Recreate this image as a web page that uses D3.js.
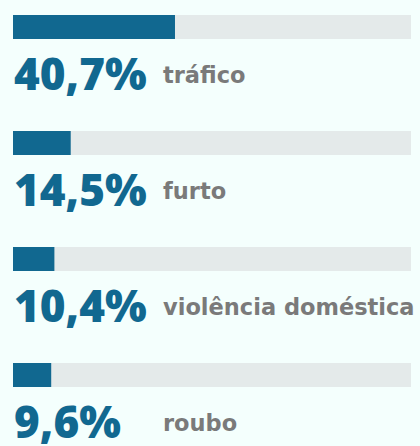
<!DOCTYPE html>
<html>
<head>
<meta charset="utf-8">
<script src="https://cdn.jsdelivr.net/npm/d3@7"></script>
<style>
  html, body { margin: 0; padding: 0; background: #f4fffd; }
  svg { display: block; }
</style>
</head>
<body>
<div id="chart"></div>
<script>
const categories = ['tráfico', 'furto', 'violência doméstica', 'roubo'];
const values = [40.7, 14.5, 10.4, 9.6];
const valueLabels = ['40,7%', '14,5%', '10,4%', '9,6%'];

const width = 420, height = 446;
const margin = {left: 13, right: 9, top: 15};
const rowStep = 116, barH = 24;

const svg = d3.select('#chart').append('svg')
  .attr('width', width)
  .attr('height', height);

const x = d3.scaleLinear()
  .domain([0, 100])
  .range([margin.left, width - margin.right]);

const y = d3.scaleBand()
  .domain(categories)
  .range([margin.top, margin.top + rowStep * categories.length])
  .paddingInner(0);

const rows = svg.selectAll('g.row')
  .data(categories)
  .enter().append('g')
  .attr('class', 'row')
  .attr('transform', d => 'translate(0,' + y(d) + ')');

// grey track behind each bar
rows.append('rect')
  .attr('x', x(0))
  .attr('y', 0)
  .attr('width', x(100) - x(0))
  .attr('height', barH)
  .attr('fill', '#e4eaea');

rows.append('rect')
  .attr('x', x(0))
  .attr('y', 0)
  .attr('width', (d, i) => x(values[i]) - x(0))
  .attr('height', barH)
  .attr('fill', '#116890');

rows.append('text')
  .attr('x', x(0) + 1)
  .attr('y', 75)
  .attr('font-family', '"Open Sans", sans-serif')
  .attr('font-weight', 800)
  .attr('font-size', 44)
  .attr('fill', '#116890')
  .text((d, i) => valueLabels[i]);

rows.append('text')
  .attr('x', 163)
  .attr('y', 68)
  .attr('font-family', '"DejaVu Sans", sans-serif')
  .attr('font-weight', 700)
  .attr('font-size', 22.5)
  .attr('fill', '#7a7a7a')
  .text(d => d);
</script>
</body>
</html>
